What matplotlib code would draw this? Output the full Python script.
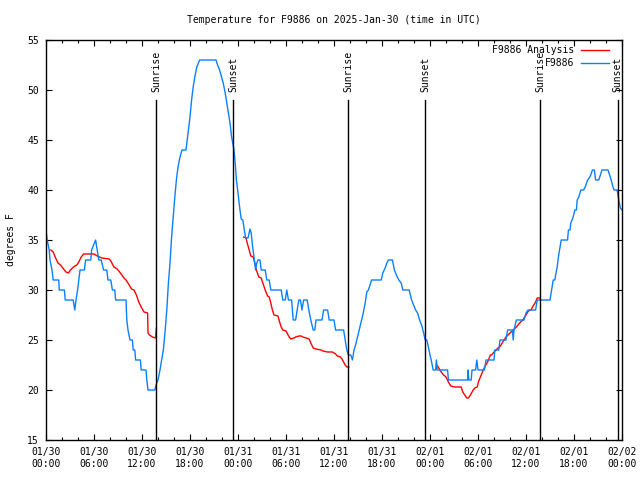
import numpy as np
import matplotlib.pyplot as plt
from matplotlib.ticker import MultipleLocator

plt.rcParams['font.family'] = 'DejaVu Sans Mono'
plt.rcParams['font.size'] = 7

# observed station temps (hours since 01/30 00:00 UTC, deg F)
obs_hours = [0.0, 0.15, 0.4, 0.5, 0.75, 0.9, 1.6, 1.65, 2.3, 2.4, 3.4, 3.5, 3.6, 3.75, 3.95, 4.1, 4.25,
             4.8, 4.95, 5.6, 5.7, 5.95, 6.2, 6.4, 6.6, 6.9, 7.2, 7.6, 7.75, 8.1, 8.3, 8.6, 8.7,
             10.0, 10.1, 10.25, 10.5, 10.8, 10.9, 11.1, 11.2, 11.8, 11.9, 12.5, 12.6, 12.75, 13.6,
             13.75, 14.0, 14.25, 14.45, 14.67, 14.9, 15.1, 15.3, 15.5, 15.7, 15.9, 16.1, 16.3, 16.5,
             16.75, 17.0, 17.5, 17.65, 17.8, 18.0, 18.2, 18.4, 18.6, 18.85, 19.2, 21.25, 21.45, 21.7,
             21.95, 22.15, 22.4, 22.6, 22.8, 23.0, 23.2, 23.5, 23.65, 23.8, 24.0, 24.2, 24.4, 24.6,
             24.8, 24.95, 25.25, 25.5, 25.65, 25.8, 26.0, 26.2, 26.35, 26.5, 26.75, 26.9, 27.4, 27.6,
             27.9, 28.1, 29.4, 29.6, 29.9, 30.1, 30.3, 30.7, 30.9, 31.2, 31.4, 31.6, 31.8, 32.0, 32.2,
             32.65, 32.85, 33.1, 33.4, 33.6, 33.75, 34.5, 34.7, 35.2, 35.4, 36.0, 36.2, 37.2, 37.4,
             37.6, 37.8, 38.1, 38.3, 38.5, 38.7, 39.0, 39.3, 39.6, 39.9, 40.1, 40.3, 40.7, 41.9, 42.1,
             42.4, 42.6, 42.8, 43.3, 43.55, 43.8, 44.1, 44.4, 44.6, 45.4, 45.7, 45.95, 46.2, 46.45,
             46.7, 46.95, 47.2, 47.4, 47.6, 47.8, 48.0, 48.15, 48.4, 48.7, 48.8, 48.9, 50.2, 50.3,
             52.7, 52.75, 52.85, 53.15, 53.25, 53.7, 53.85, 54.0, 54.8, 55.0, 56.0, 56.1, 56.6, 56.75,
             57.5, 57.7, 58.3, 58.4, 58.5, 58.8, 59.5, 59.75, 60.0, 60.25, 61.2, 61.4, 63.0, 63.2,
             63.4, 63.6, 63.75, 63.9, 64.05, 64.25, 64.4, 65.2, 65.3, 65.5, 65.6, 65.9, 66.1, 66.3,
             66.4, 66.6, 66.85, 67.2, 67.4, 67.7, 67.9, 68.1, 68.3, 68.55, 68.7, 69.1, 69.3, 69.5,
             70.25, 70.45, 70.65, 70.8, 71.0, 71.4, 71.6, 71.8, 72.0]
obs_temp = [36, 35, 34, 33, 32, 31, 31, 30, 30, 29, 29, 28.5, 28, 29, 30, 31, 32,
            32, 33, 33, 34, 34.5, 35, 34, 33, 33, 32, 32, 31, 31, 30, 30, 29,
            29, 27, 26, 25, 25, 24, 24, 23, 23, 22, 22, 21, 20, 20,
            20.5, 21, 22, 23, 24, 26, 28, 30.7, 32.7, 35.3, 37.3, 39.3, 41, 42.3,
            43.3, 44, 44, 45, 46, 47.3, 49, 50.3, 51.3, 52.3, 53, 53, 52.5, 52,
            51.3, 50.7, 49.7, 48.7, 47.7, 46.7, 45.3, 44, 42.7, 41, 39.7, 38.3, 37.1, 37,
            36, 35.2, 35.2, 36.1, 35.7, 34.5, 33.3, 32, 32.7, 33, 33, 32, 32, 31,
            31, 30, 30, 29, 29, 30, 29, 29, 27, 27, 28, 29, 29, 28, 29,
            29, 28, 27, 26, 26, 27, 27, 28, 28, 27, 27, 26, 26, 25,
            24, 23.5, 23.5, 23, 24, 24.5, 25.5, 26.5, 27.5, 28.7, 29.8, 30, 31, 31, 31.7,
            32.2, 32.7, 33, 33, 32, 31.5, 31, 30.7, 30, 30, 29, 28.5, 28, 27.7,
            27, 26.5, 25.7, 25, 25, 24.3, 23.5, 23, 22, 22, 23, 22, 22, 21,
            21, 22, 21, 21, 22, 22, 23, 22, 22, 23, 23, 24, 24, 25,
            25, 26, 26, 25, 26, 27, 27, 27, 27.7, 28, 28, 29, 29, 30,
            31, 31, 31.7, 32.3, 33.3, 34.3, 35, 35, 36, 36, 36.7, 37.3, 38, 38,
            39, 39.3, 40, 40, 40.3, 41, 41.2, 41.5, 42, 42, 41, 41, 41.5, 42,
            42, 41.5, 41, 40.5, 40, 40, 39, 38.2, 38]

# analysis temps, NaN marks the gaps between runs
ana_hours = [0.6, 0.9, 1.2, 1.5, 1.8, 2.1, 2.5, 2.8, 3.05, 3.3, 3.6, 3.85, 4.1, 4.4, 4.7, 6.0, 6.4,
             7.0, 7.9, 8.1, 8.5, 8.9, 9.3, 9.75, 10.0, 10.4, 10.7, 11.0, 11.3, 11.6, 11.9, 12.25,
             12.7, 12.75, 12.95, 13.3, 13.7, 13.8, np.nan,
             24.7, 25.0, 25.15, 25.4, 25.6, 25.9, 26.1, 26.3, 26.6, 26.9, 27.1, 27.4, 27.7, 27.9,
             28.1, 28.3, 28.5, 29.0, 29.2, 29.4, 29.6, 30.0, 30.4, 30.6, 31.0, 31.2, 31.6, 31.9,
             32.1, 32.5, 32.9, 33.1, 33.4, 33.75, 34.4, 34.6, 35.2, 35.8, 36.2, 36.4, 36.8, 37.0,
             37.2, 37.4, 37.6, 37.85, np.nan,
             48.85, 49.1, 49.4, 49.7, 50.0, 50.3, 50.6, 51.1, 51.9, 52.1, 52.35, 52.6, 52.8, 53.05,
             53.4, 53.6, 53.9, 54.05, 54.3, 54.6, 54.9, 55.2, 55.55, 55.7, 56.0, 56.5, 56.8, 57.1,
             57.5, 58.0, 58.4, 58.8, 59.2, 59.6, 60.0, 60.3, 60.6, 60.9, 61.2, 61.4, 61.8]
ana_temp = [34, 33.8, 33.2, 32.7, 32.5, 32.2, 31.8, 31.7, 32, 32.2, 32.4, 32.5, 32.8, 33.3, 33.6, 33.6, 33.4,
            33.2, 33.1, 32.9, 32.3, 32.1, 31.7, 31.2, 31.0, 30.5, 30.1, 30, 29.5, 28.8, 28.3, 27.8,
            27.7, 25.7, 25.5, 25.3, 25.2, 26.2, np.nan,
            35.3, 35.2, 34.7, 34, 33.4, 33.3, 32.7, 32, 31.3, 31.2, 30.7, 30, 29.4, 29.3,
            28.7, 28, 27.5, 27.4, 26.8, 26.3, 26, 25.9, 25.3, 25.1, 25.2, 25.3, 25.4, 25.4,
            25.3, 25.2, 25.1, 24.7, 24.2, 24.1, 24, 23.9, 23.8, 23.8, 23.6, 23.4, 23.3, 23.1,
            22.8, 22.5, 22.3, 22.3, np.nan,
            22.5, 22.2, 21.8, 21.5, 21.3, 20.8, 20.4, 20.3, 20.3, 19.8, 19.5, 19.2, 19.2, 19.5,
            20, 20.2, 20.3, 20.8, 21.3, 21.9, 22.4, 22.8, 23.5, 23.5, 23.8, 24.2, 24.4, 24.8,
            25.3, 25.7, 26, 26.3, 26.7, 27, 27.5, 27.9, 28, 28.4, 28.8, 29.2, 29.2]

sun_hours = [13.8, 23.4, 37.8, 47.42, 61.8, 71.45]
sun_labels = ['Sunrise', 'Sunset', 'Sunrise', 'Sunset', 'Sunrise', 'Sunset']

tick_hours = list(range(0, 73, 6))
tick_labels = ['01/30\n00:00', '01/30\n06:00', '01/30\n12:00', '01/30\n18:00',
               '01/31\n00:00', '01/31\n06:00', '01/31\n12:00', '01/31\n18:00',
               '02/01\n00:00', '02/01\n06:00', '02/01\n12:00', '02/01\n18:00',
               '02/02\n00:00']

fig = plt.figure(figsize=(6.4, 4.8), dpi=100)
ax = fig.add_axes([46 / 640, 40 / 480, 576 / 640, 400 / 480])

ax.plot(ana_hours, ana_temp, color='#ff0000', lw=1.0)
ax.plot(obs_hours, obs_temp, color='#0a80ff', lw=1.0)

# sunrise / sunset markers
for h, lab in zip(sun_hours, sun_labels):
    ax.plot([h, h], [15, 49], color='black', lw=1.0)
    ax.text(h, 49.8, lab, rotation=90, ha='center', va='bottom')

ax.set_xlim(0, 72)
ax.set_ylim(15, 55)
ax.set_xticks(tick_hours)
ax.set_xticklabels(tick_labels)
ax.xaxis.set_minor_locator(MultipleLocator(2))
ax.yaxis.set_major_locator(MultipleLocator(5))
ax.tick_params(which='both', direction='in', top=True, right=True, width=0.8)
ax.tick_params(which='major', length=4, pad=5)
ax.tick_params(which='minor', length=2)
for s in ax.spines.values():
    s.set_linewidth(1.0)

ax.set_ylabel('degrees F', labelpad=8)
fig.text(334 / 640, 1 - 20 / 480, 'Temperature for F9886 on 2025-Jan-30 (time in UTC)',
         ha='center', va='center')

# gnuplot style key, text right-justified before the sample line
ax.text(0.917, 0.975, 'F9886 Analysis', transform=ax.transAxes, ha='right', va='center')
ax.plot([0.929, 0.977], [0.975, 0.975], transform=ax.transAxes, color='#ff0000', lw=1.0)
ax.text(0.917, 0.9425, 'F9886', transform=ax.transAxes, ha='right', va='center')
ax.plot([0.929, 0.977], [0.9425, 0.9425], transform=ax.transAxes, color='#0a80ff', lw=1.0)

fig.savefig('out.png', dpi=100)
